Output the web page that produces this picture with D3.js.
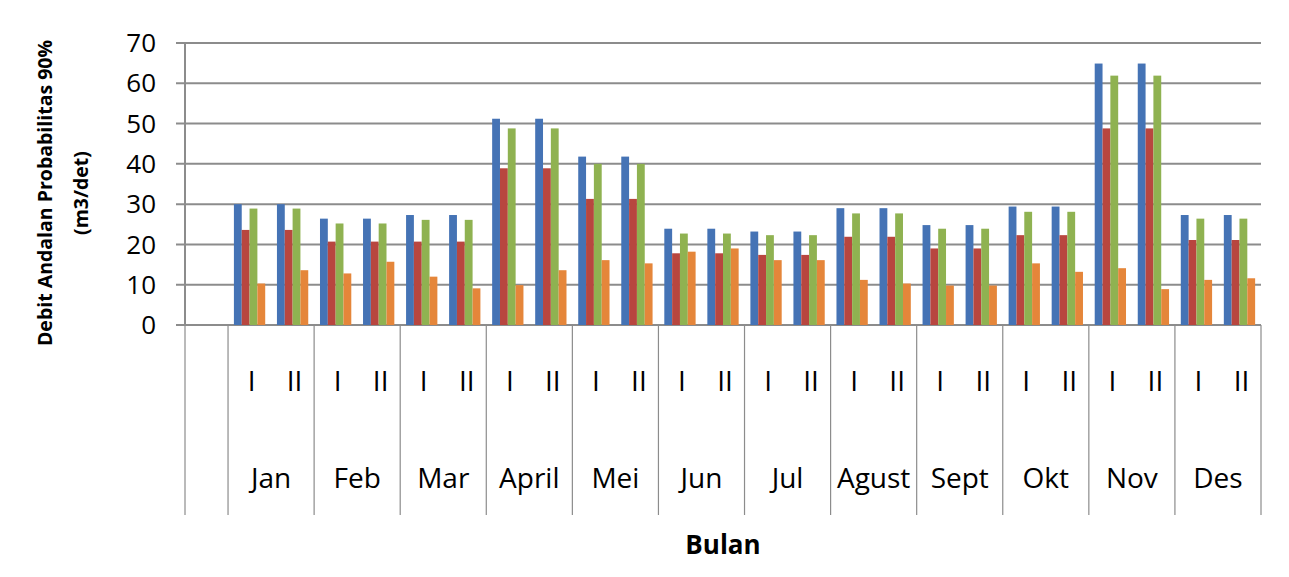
<!DOCTYPE html>
<html lang="en">
<head>
<meta charset="UTF-8">
<title>Debit Andalan Probabilitas 90%</title>
<script src="https://d3js.org/d3.v7.min.js"></script>
<style>
    body { margin: 0; background: #fff; }
    svg text { font-family: "Open Sans", sans-serif; fill: #000; }
    .grid line { stroke: #8c8c8c; stroke-width: 2; }
</style>
</head>
<body>
<svg id="chart" width="1289" height="577"></svg>
<script>
    // month names and the two half-month periods
    const months = ["Jan", "Feb", "Mar", "April", "Mei", "Jun", "Jul", "Agust", "Sept", "Okt", "Nov", "Des"];
    const halves = ["I", "II"];

    // four series, one value per half-month (24 each)
    const seriesBlue   = [30.0, 30.0, 26.4, 26.4, 27.3, 27.3, 51.2, 51.2, 41.8, 41.8, 23.9, 23.9,
                          23.2, 23.2, 29.0, 29.0, 24.8, 24.8, 29.4, 29.4, 64.9, 64.9, 27.3, 27.3];
    const seriesRed    = [23.6, 23.6, 20.7, 20.7, 20.7, 20.7, 38.9, 38.9, 31.3, 31.3, 17.8, 17.8,
                          17.4, 17.4, 21.9, 21.9, 19.0, 19.0, 22.3, 22.3, 48.8, 48.8, 21.1, 21.1];
    const seriesGreen  = [28.9, 28.9, 25.2, 25.2, 26.1, 26.1, 48.8, 48.8, 40.0, 40.0, 22.7, 22.7,
                          22.3, 22.3, 27.7, 27.7, 23.9, 23.9, 28.1, 28.1, 61.9, 61.9, 26.4, 26.4];
    const seriesOrange = [10.3, 13.6, 12.8, 15.7, 12.0,  9.1,  9.9, 13.6, 16.1, 15.3, 18.2, 19.0,
                          16.1, 16.1, 11.2, 10.3,  9.8,  9.8, 15.3, 13.2, 14.1,  8.9, 11.2, 11.6];

    const seriesColors = ["#4573b5", "#b8463f", "#8fb251", "#e5863a"];
    const yTicks = [0, 10, 20, 30, 40, 50, 60, 70];

    const svg = d3.select("#chart");
    const plotL = 185, plotR = 1261, plotT = 43, plotB = 325;

    // one blank slot in front, then 24 half-month slots
    const slots = ["blank"];
    months.forEach(m => halves.forEach(h => slots.push(m + "-" + h)));

    const x = d3.scaleBand().domain(slots).range([plotL, plotR]);
    const y = d3.scaleLinear().domain([0, 70]).range([plotB, plotT]);

    // bars: 4 bars with a gap of 1.5 bar widths
    const barW = x.bandwidth() / 5.5;
    const inner = d3.scaleBand().domain(d3.range(4)).range([0, barW * 4]);
    const series = [seriesBlue, seriesRed, seriesGreen, seriesOrange];

    // gridlines
    svg.append("g")
        .attr("class", "grid")
        .selectAll("line")
        .data(yTicks)
        .join("line")
        .attr("x1", plotL - 9).attr("x2", plotR)
        .attr("y1", d => y(d)).attr("y2", d => y(d));

    // y axis line
    svg.append("line")
        .attr("x1", plotL).attr("x2", plotL)
        .attr("y1", plotT).attr("y2", plotB)
        .attr("stroke", "#8c8c8c").attr("stroke-width", 2);

    // tick labels
    svg.append("g").selectAll("text")
        .data(yTicks)
        .join("text")
        .attr("x", plotL - 29)
        .attr("y", d => y(d))
        .attr("dy", "0.35em")
        .attr("text-anchor", "end")
        .attr("font-size", 26)
        .text(d => d);

    // bars
    series.forEach((vals, si) => {
        svg.append("g").selectAll("rect")
            .data(vals)
            .join("rect")
            .attr("x", (d, i) => x(slots[i + 1]) + (x.bandwidth() - barW * 4) / 2 + inner(si))
            .attr("width", barW)
            .attr("y", d => y(d))
            .attr("height", d => y(0) - y(d))
            .attr("fill", seriesColors[si]);
    });

    // category separator lines (below the axis)
    const sepX = [plotL, x("Jan-I")].concat(months.map(m => x(m + "-II") + x.bandwidth()));
    svg.append("g").selectAll("line")
        .data(sepX)
        .join("line")
        .attr("x1", d => d).attr("x2", d => d)
        .attr("y1", plotB).attr("y2", 515)
        .attr("stroke", "#8c8c8c").attr("stroke-width", 1.2);

    // half-month labels
    svg.append("g").selectAll("text")
        .data(slots.slice(1))
        .join("text")
        .attr("x", d => x(d) + x.bandwidth() / 2 + 2)
        .attr("y", 381)
        .attr("dy", "0.35em")
        .attr("text-anchor", "middle")
        .attr("font-size", 28)
        .text(d => d.split("-")[1]);

    // month labels
    svg.append("g").selectAll("text")
        .data(months)
        .join("text")
        .attr("x", d => x(d + "-II"))
        .attr("y", 478)
        .attr("dy", "0.35em")
        .attr("text-anchor", "middle")
        .attr("font-size", 28)
        .text(d => d);

    // axis titles
    svg.append("text")
        .attr("x", 723)
        .attr("y", 545)
        .attr("dy", "0.35em")
        .attr("text-anchor", "middle")
        .attr("font-size", 26)
        .attr("font-weight", "bold")
        .text("Bulan");

    const yTitle = svg.append("text")
        .attr("transform", "translate(0,193) rotate(-90)")
        .attr("text-anchor", "middle")
        .attr("font-size", 19.5)
        .attr("font-weight", "bold");
    yTitle.append("tspan").attr("x", 0).attr("y", 52)
        .text("Debit Andalan Probabilitas 90%");
    yTitle.append("tspan").attr("x", 0).attr("y", 88)
        .text("(m3/det)");
</script>
</body>
</html>
